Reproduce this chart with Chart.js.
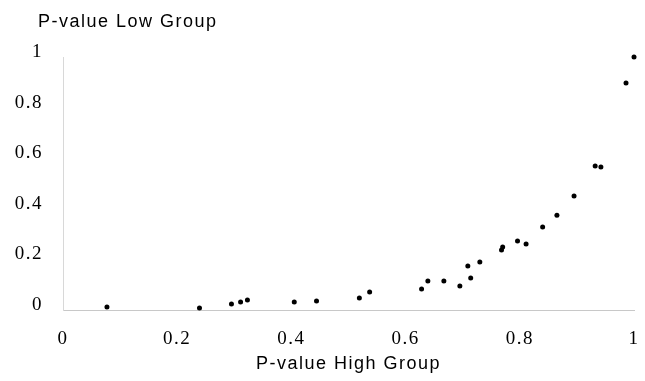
<!DOCTYPE html>
<html>
<head>
<meta charset="utf-8">
<script src="https://cdn.jsdelivr.net/npm/chart.js@4"></script>
<style>
  html, body { margin: 0; padding: 0; background: #fff; }
  #wrap { width: 645px; height: 381px; position: relative; }
</style>
</head>
<body>
<div id="wrap"><canvas id="c"></canvas></div>
<script>
// P-values, high group (x) and low group (y)
const pHighGroup = [0.077, 0.239, 0.295, 0.311, 0.323, 0.405, 0.444, 0.519, 0.537, 0.628, 0.639, 0.667, 0.695, 0.709, 0.714, 0.730, 0.768, 0.770, 0.796, 0.811, 0.840, 0.865, 0.895, 0.932, 0.942, 0.986, 1.000];
const pLowGroup  = [0.012, 0.008, 0.024, 0.032, 0.040, 0.032, 0.036, 0.047, 0.071, 0.083, 0.115, 0.115, 0.095, 0.174, 0.126, 0.190, 0.237, 0.249, 0.273, 0.261, 0.328, 0.375, 0.451, 0.569, 0.565, 0.897, 1.000];
const xTicks = [0, 0.2, 0.4, 0.6, 0.8, 1];
const yTicks = [0, 0.2, 0.4, 0.6, 0.8, 1];
const xTitle = 'P-value High Group';
const yTitle = 'P-value Low Group';

const points = pHighGroup.map((x, i) => ({ x: x, y: pLowGroup[i] }));

const spacing = {
  id: 'spacing',
  beforeLayout(chart) { chart.ctx.letterSpacing = '1.5px'; },
  beforeDraw(chart) { chart.ctx.letterSpacing = '1.5px'; },
  afterDraw(chart) {
    const ctx = chart.ctx;
    const a = chart.chartArea;
    ctx.save();
    ctx.letterSpacing = '1.5px';
    ctx.font = '18px "Liberation Sans", Arial, sans-serif';
    ctx.fillStyle = '#000';
    ctx.textAlign = 'left';
    ctx.textBaseline = 'alphabetic';
    ctx.fillText(yTitle, a.left - 25, a.top - 30);
    ctx.restore();
  }
};

new Chart(document.getElementById('c'), {
  type: 'scatter',
  data: {
    datasets: [{
      data: points,
      backgroundColor: '#000',
      borderColor: '#000',
      borderWidth: 0,
      pointRadius: 2.5,
      clip: false
    }]
  },
  options: {
    responsive: true,
    maintainAspectRatio: false,
    animation: false,
    layout: { padding: { top: 57, right: 11, left: 0, bottom: 0 } },
    plugins: { legend: { display: false }, tooltip: { enabled: false } },
    scales: {
      x: {
        type: 'linear', min: 0, max: 1,
        afterBuildTicks: s => { s.ticks = xTicks.map(v => ({ value: v })); },
        afterFit: s => { s.height = 71; s.paddingRight = 0; s.paddingLeft = 0; },
        grid: { display: false, drawTicks: false },
        border: { display: true, color: '#c8c8c8', width: 1, dash: [6, 5] },
        ticks: {
          padding: 18,
          color: '#000',
          font: { family: '"Liberation Serif", "Times New Roman", serif', size: 19 },
          callback: v => String(v)
        },
        title: {
          display: true, text: xTitle, color: '#000',
          font: { family: '"Liberation Sans", Arial, sans-serif', size: 18 },
          padding: { top: 0, bottom: 6 }
        }
      },
      y: {
        type: 'linear', min: 0, max: 1,
        afterBuildTicks: s => { s.ticks = yTicks.map(v => ({ value: v })); },
        afterFit: s => { s.width = 63; },
        grid: { display: false, drawTicks: false },
        border: { display: true, color: '#d8d8d8', width: 1, dash: [3, 4] },
        ticks: {
          padding: 20,
          labelOffset: -5,
          color: '#000',
          font: { family: '"Liberation Serif", "Times New Roman", serif', size: 19 },
          callback: v => String(v)
        }
      }
    }
  },
  plugins: [spacing]
});
</script>
</body>
</html>
